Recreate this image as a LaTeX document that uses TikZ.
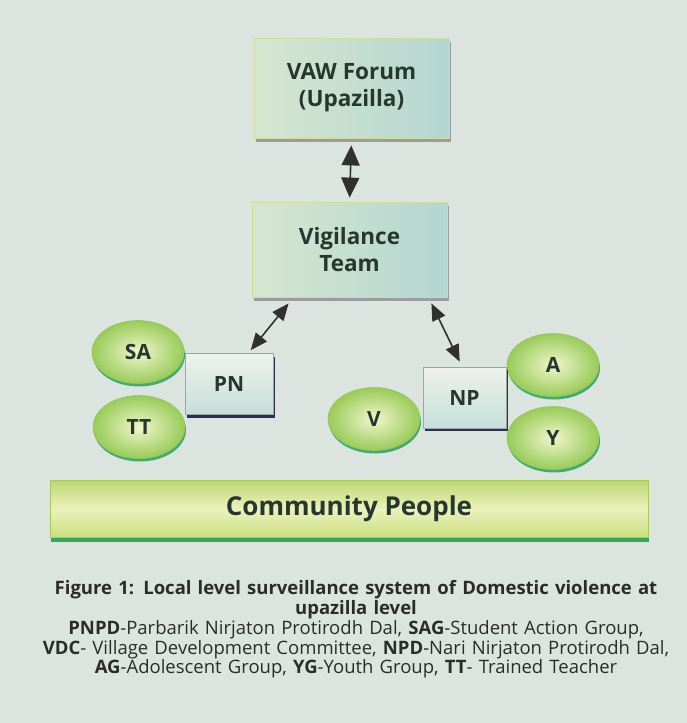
\documentclass[tikz,border=0pt]{standalone}
\usepackage{fontspec}
\setmainfont{Open Sans}
\usepackage{tikz}
\usetikzlibrary{arrows.meta,shadows,shapes.geometric}

\definecolor{paper}{HTML}{DBE4DF}
\definecolor{ink}{HTML}{26382E}
\definecolor{capink}{HTML}{2A2C2B}
\definecolor{arrowgray}{HTML}{2F3030}
\definecolor{panelrim}{HTML}{CFDC9A}
\definecolor{panelleft}{HTML}{D6E6D0}
\definecolor{panelright}{HTML}{B4D6D1}
\definecolor{grouprim}{HTML}{9AA89F}
\definecolor{grouptop}{HTML}{EEF2EC}
\definecolor{groupbottom}{HTML}{C6DED9}
\definecolor{groupshadow}{HTML}{2E2D55}
\definecolor{memberrim}{HTML}{95C860}
\definecolor{memberin}{HTML}{F1F5CC}
\definecolor{memberout}{HTML}{98CB58}
\definecolor{membershadow}{HTML}{45AA72}
\definecolor{barrim}{HTML}{A9C95A}
\definecolor{bartop}{HTML}{BDD872}
\definecolor{barmid}{HTML}{ECF1BD}
\definecolor{barbottom}{HTML}{C8DF7E}
\definecolor{barshadow}{HTML}{37A55A}

\begin{document}
\begin{tikzpicture}[x=1pt, y=-1pt,
      every node/.append style={text=ink, align=center, font=\fontsize{21}{26}\selectfont\bfseries},
      link/.style={arrowgray, line width=1.6pt,
        {Triangle[length=20pt,width=18pt]}-{Triangle[length=20pt,width=18pt]}},
      slim/.style={{Triangle[length=17pt,width=14pt]}-{Triangle[length=17pt,width=14pt]}}]
    \tikzstyle{panel} = [rectangle, draw=panelrim, line width=0.8pt,
      left color=panelleft, right color=panelright,
      font=\fontsize{22.5}{27}\selectfont\bfseries,
      drop shadow={shadow xshift=2pt, shadow yshift=-4pt, fill=black!45, opacity=0.8}]
    \tikzstyle{group} = [rectangle, draw=grouprim, line width=0.6pt,
      top color=grouptop, bottom color=groupbottom,
      minimum width=88pt, minimum height=61pt,
      drop shadow={shadow xshift=2pt, shadow yshift=-3pt, fill=groupshadow, opacity=1}]
    \tikzstyle{member} = [ellipse, draw=memberrim, line width=0.6pt,
      inner color=memberin, outer color=memberout,
      minimum width=92pt, minimum height=63pt,
      drop shadow={shadow xshift=1pt, shadow yshift=-3pt, fill=membershadow, opacity=1}]
    \useasboundingbox (0,0) rectangle (687,723);
    \fill[paper] (0,0) rectangle (687,723);

    \node (forum) [panel, minimum width=195pt, minimum height=100pt] at (351.5,88) {VAW Forum\\(Upazilla)};
    \node (vigilance) [panel, minimum width=195pt, minimum height=95pt] at (349.5,249.5) {Vigilance\\Team};

    \node (SA) [member] at (138,352) {SA};
    \node (TT) [member] at (139,427) {TT};
    \node (PN) [group] at (229,384) {PN};

    \node (V) [member] at (374,419) {V};
    \node (A) [member] at (553,365) {A};
    \node (Y) [member] at (553,438) {Y};
    \node (NP) [group, minimum width=83pt] at (464.5,397.5) {NP};

    \node (community) [rectangle, draw=barrim, line width=0.8pt,
      top color=bartop, bottom color=barbottom, middle color=barmid,
      minimum width=598pt, minimum height=57pt,
      drop shadow={shadow xshift=1pt, shadow yshift=-4pt, fill=barshadow, opacity=1},
      font=\fontsize{26}{30}\selectfont\bfseries] at (349,509) {Community People};

    \draw[link, shorten <=7pt, shorten >=4pt] (forum.south) -- (vigilance.north);
    \draw[link, slim]
      ([xshift=37pt,yshift=-6pt]vigilance.south west) -- ([xshift=66pt,yshift=3pt]PN.north west);
    \draw[link, slim]
      ([xshift=-16pt,yshift=-6pt]vigilance.south east) -- ([xshift=37pt,yshift=5pt]NP.north west);

    \node (caption) [anchor=north, text=capink, font=\fontsize{18.5}{19.8}\selectfont, text width=687pt] at (356,577)
      {{\bfseries Figure 1: Local level surveillance system of Domestic violence at\\ upazilla level}\\
       {\bfseries PNPD}-Parbarik Nirjaton Protirodh Dal, {\bfseries SAG}-Student Action Group,\\
       {\bfseries VDC}- Village Development Committee, {\bfseries NPD}-Nari Nirjaton Protirodh Dal,\\
       {\bfseries AG}-Adolescent Group, {\bfseries YG}-Youth Group, {\bfseries TT}- Trained Teacher};
  \end{tikzpicture}
\end{document}
